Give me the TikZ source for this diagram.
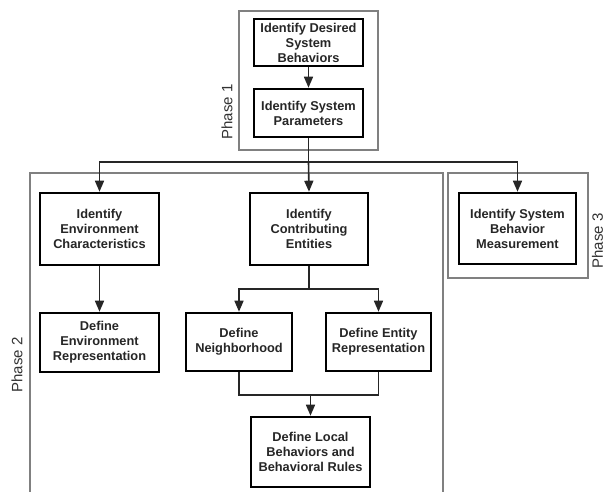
\documentclass[tikz,border=0pt]{standalone}
\usepackage{fontspec}
\setmainfont{Liberation Sans}
\usetikzlibrary{arrows.meta}
\begin{document}
\begin{tikzpicture}[x=1pt,y=-1pt,
  stepbox/.style={draw=black,line width=2.6pt,fill=white,align=center,
    font=\bfseries\fontsize{12.8}{15}\selectfont,text=black!85,inner sep=2pt},
  phasebox/.style={draw=black!50,line width=1.2pt},
  phaselabel/.style={rotate=90,font=\fontsize{15}{17}\selectfont,text=black!80,inner sep=0pt},
  conn/.style={draw=black!85,line width=1.6pt},
  arr/.style={conn,-{Triangle[length=11pt,width=9pt]}}]
\clip (0,0) rectangle (606,492);
\useasboundingbox (0,0) rectangle (606,492);
\fill[white] (0,0) rectangle (606,492);
% phase boxes
\draw[phasebox] (239,11) rectangle (378,150);
\draw[phasebox] (30,173) rectangle (443,520);
\draw[phasebox] (448,173) rectangle (588,278);
\node[phaselabel] (p1) at (227,112) {Phase 1};
\node[phaselabel] (p2) at (17,365) {Phase 2};
\node[phaselabel] (p3) at (597.5,241) {Phase 3};
% steps
\node[stepbox,minimum width=109pt,minimum height=47pt] (b1) at (308.5,42.5) {Identify Desired\\System\\Behaviors};
\node[stepbox,minimum width=109pt,minimum height=48pt] (b2) at (308.5,113) {Identify System\\Parameters};
\node[stepbox,minimum width=119pt,minimum height=72pt] (env) at (99.5,229) {Identify\\Environment\\Characteristics};
\node[stepbox,minimum width=118pt,minimum height=72pt] (ent) at (309,229) {Identify\\Contributing\\Entities};
\node[stepbox,minimum width=117pt,minimum height=71pt] (meas) at (517.5,228.5) {Identify System\\Behavior\\Measurement};
\node[stepbox,minimum width=119pt,minimum height=59pt] (envrep) at (99.5,342.5) {Define\\Environment\\Representation};
\node[stepbox,minimum width=106pt,minimum height=58pt] (nbh) at (239,342) {Define\\Neighborhood};
\node[stepbox,minimum width=105pt,minimum height=58pt] (entrep) at (378.5,342) {Define Entity\\Representation};
\node[stepbox,minimum width=119pt,minimum height=70pt] (local) at (310.5,452) {Define Local\\Behaviors and\\Behavioral Rules};
% junctions
\coordinate (j1) at (308,162);
\coordinate (j2) at (309,289);
\coordinate (j3) at (311,395);
% connectors
\draw[arr] (b1) -- (b2);
\draw[conn] (b2.south) -- (b2.south |- j1);
\draw[arr] (b2.south |- j1) -| (env.north);
\draw[arr] (b2.south |- j1) -- (ent.north);
\draw[arr] (b2.south |- j1) -| (meas.north);
\draw[arr] (env) -- (envrep);
\draw[conn] (ent.south) -- (ent.south |- j2);
\draw[arr] (ent.south |- j2) -| (nbh.north);
\draw[arr] (ent.south |- j2) -| (entrep.north);
\draw[conn] (nbh.south) |- (j3) -| (entrep.south);
\draw[arr] (local.north |- j3) -- (local.north);
\end{tikzpicture}
\end{document}
